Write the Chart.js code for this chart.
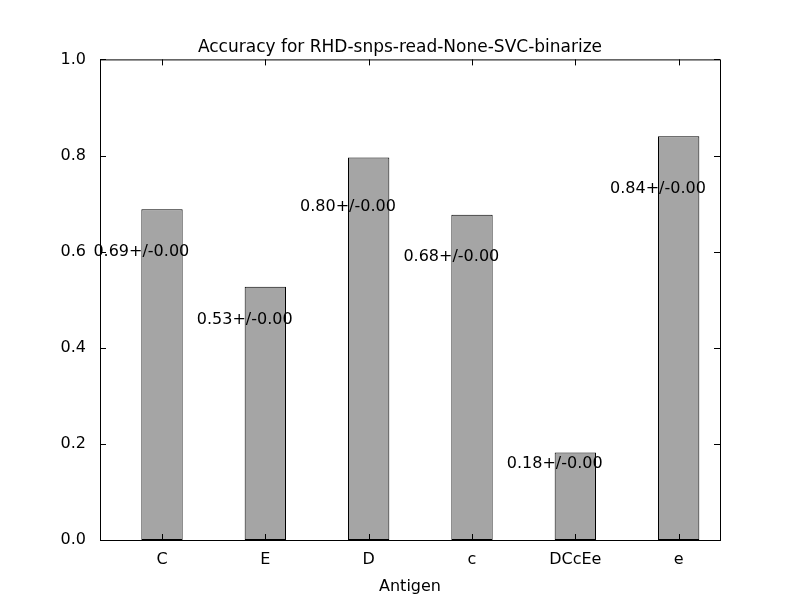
<!DOCTYPE html>
<html>
<head>
<meta charset="utf-8">
<script src="https://cdn.jsdelivr.net/npm/chart.js@4"></script>
<style>
  html, body { margin: 0; padding: 0; background: #fff; }
  #wrap { width: 800px; height: 600px; }
</style>
</head>
<body>
<div id="wrap"><canvas id="chart" width="800" height="600"></canvas></div>
<script>
// Chart data
const antigens = ['C', 'E', 'D', 'c', 'DCcEe', 'e'];
const accuracy = [0.688, 0.527, 0.796, 0.677, 0.182, 0.840];
const errors = [0.00, 0.00, 0.00, 0.00, 0.00, 0.00];
const yTicks = [0.0, 0.2, 0.4, 0.6, 0.8, 1.0];

const font = 'DejaVu Sans';
Chart.defaults.font.family = font;
Chart.defaults.color = '#000';

// bars span [i, i+0.4], ticks at the bar centres
const points = accuracy.map((v, i) => ({ x: i + 0.2, y: v }));

// inward ticks on all four sides plus bar labels
const classicPlugin = {
    id: 'classic',
    afterDatasetsDraw(chart) {
        const ctx = chart.ctx;
        const a = chart.chartArea;
        const xs = chart.scales.x;
        const ys = chart.scales.y;
        ctx.save();
        ctx.strokeStyle = '#000';
        ctx.lineWidth = 1;
        ctx.beginPath();
        yTicks.forEach(t => {
            const py = Math.round(ys.getPixelForValue(t)) + 0.5;
            ctx.moveTo(a.left, py); ctx.lineTo(a.left + 6, py);
            ctx.moveTo(a.right, py); ctx.lineTo(a.right - 6, py);
        });
        antigens.forEach((_, i) => {
            const px = Math.round(xs.getPixelForValue(i + 0.2)) + 0.5;
            ctx.moveTo(px, a.bottom); ctx.lineTo(px, a.bottom - 6);
            ctx.moveTo(px, a.top); ctx.lineTo(px, a.top + 6);
        });
        ctx.stroke();
        ctx.strokeRect(a.left + 0.5, a.top + 0.5, a.right - a.left, a.bottom - a.top);

        // value labels centred on bar left edge
        ctx.fillStyle = '#000';
        ctx.font = '16px ' + font;
        ctx.textAlign = 'center';
        ctx.textBaseline = 'middle';
        accuracy.forEach((v, i) => {
            const label = v.toFixed(2) + '+/-' + errors[i].toFixed(2);
            ctx.fillText(label, xs.getPixelForValue(i), ys.getPixelForValue(v * 0.87));
        });
        ctx.restore();
    }
};

new Chart(document.getElementById('chart'), {
    type: 'bar',
    data: {
        datasets: [{
            data: points,
            backgroundColor: '#a5a5a5',
            borderColor: '#000',
            borderWidth: 1,
            borderSkipped: false,
            barPercentage: 0.4,
            categoryPercentage: 1.0
        }]
    },
    options: {
        responsive: false,
        animation: false,
        layout: { padding: 0 },
        plugins: {
            legend: { display: false },
            tooltip: { enabled: false },
            title: {
                display: true,
                text: 'Accuracy for RHD-snps-read-None-SVC-binarize',
                font: { size: 17, weight: 'normal' },
                color: '#000',
                padding: { top: 37, bottom: 2 }
            }
        },
        scales: {
            x: {
                type: 'linear',
                offset: false,
                min: -0.4,
                max: 5.6,
                grid: { display: false, offset: false },
                border: { display: false },
                afterBuildTicks(scale) {
                    scale.ticks = antigens.map((_, i) => ({ value: i + 0.2 }));
                },
                ticks: {
                    autoSkip: false,
                    maxRotation: 0,
                    font: { size: 16 },
                    padding: 2,
                    callback: (val, idx) => antigens[idx]
                },
                title: { display: true, text: 'Antigen', font: { size: 16 }, padding: { top: 2 } },
                afterFit(scale) { scale.height = 60; }
            },
            y: {
                min: 0,
                max: 1,
                grid: { display: false },
                border: { display: false },
                afterBuildTicks(scale) {
                    scale.ticks = yTicks.map(v => ({ value: v }));
                },
                ticks: {
                    font: { size: 16 },
                    padding: 6,
                    callback: v => v.toFixed(1)
                },
                afterFit(scale) { scale.width = 100; }
            },
            yRight: {
                position: 'right',
                min: 0,
                max: 1,
                grid: { display: false },
                border: { display: false },
                ticks: { display: false },
                afterFit(scale) { scale.width = 80; }
            }
        }
    },
    plugins: [classicPlugin]
});
</script>
</body>
</html>
